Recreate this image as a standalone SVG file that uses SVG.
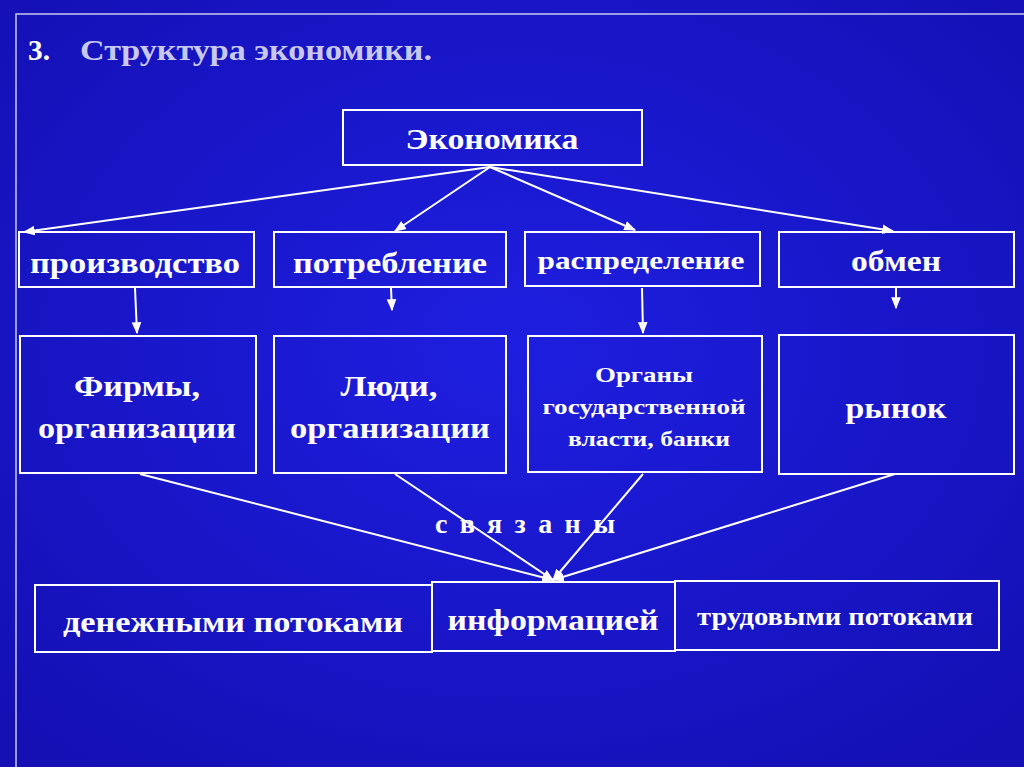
<svg xmlns="http://www.w3.org/2000/svg" width="1024" height="767" viewBox="0 0 1024 767">
<defs>
<radialGradient id="bg" cx="50%" cy="45%" r="70%"><stop offset="0" stop-color="#1e1ee0"/><stop offset="1" stop-color="#1410b4"/></radialGradient>
<marker id="ah" viewBox="0 0 10 10" refX="9" refY="5" markerWidth="6" markerHeight="6" orient="auto"><path d="M0,1 L10,5 L0,9 z" fill="#fff"/></marker>
</defs>
<style>
.b{fill:none;stroke:#fff;stroke-width:2}
.t{font-family:"Liberation Serif",serif;font-weight:bold;fill:#fff;text-anchor:middle}
.c{stroke:#fff;stroke-width:2;fill:none}
</style>
<rect width="1024" height="767" fill="url(#bg)"/>
<rect x="16" y="14" width="1020" height="760" fill="none" stroke="#c8c8f0" stroke-width="1.5"/>
<text x="28" y="60" font-family="Liberation Serif,serif" font-weight="bold" font-size="30" fill="#ffffff" textLength="22" lengthAdjust="spacingAndGlyphs">3.</text>
<text x="80" y="60" font-family="Liberation Serif,serif" font-weight="bold" font-size="30" fill="#c8c8f0" textLength="352" lengthAdjust="spacingAndGlyphs">Структура экономики.</text>
<g id="connectors">
<line class="c" x1="490" y1="167" x2="24" y2="232" marker-end="url(#ah)"/>
<line class="c" x1="490" y1="167" x2="395" y2="231" marker-end="url(#ah)"/>
<line class="c" x1="490" y1="167" x2="635" y2="230" marker-end="url(#ah)"/>
<line class="c" x1="490" y1="167" x2="893" y2="231" marker-end="url(#ah)"/>
<line class="c" x1="135" y1="288" x2="137" y2="333" marker-end="url(#ah)"/>
<line class="c" x1="391" y1="288" x2="392" y2="310" marker-end="url(#ah)"/>
<line class="c" x1="642" y1="288" x2="643" y2="333" marker-end="url(#ah)"/>
<line class="c" x1="896" y1="288" x2="896" y2="308" marker-end="url(#ah)"/>
<line class="c" x1="140" y1="474" x2="553" y2="580" marker-end="url(#ah)"/>
<line class="c" x1="395" y1="474" x2="553" y2="580" marker-end="url(#ah)"/>
<line class="c" x1="643" y1="474" x2="553" y2="580" marker-end="url(#ah)"/>
<line class="c" x1="895" y1="474" x2="553" y2="580" marker-end="url(#ah)"/>
</g>
<g id="econ"><rect class="b" x="343" y="110" width="299" height="55"/><text class="t" x="492" y="149" font-size="29" textLength="173" lengthAdjust="spacingAndGlyphs">Экономика</text></g>
<g id="proizv"><rect class="b" x="19" y="232" width="235" height="55"/><text class="t" x="135" y="273" font-size="29" textLength="210" lengthAdjust="spacingAndGlyphs">производство</text></g>
<g id="potreb"><rect class="b" x="274" y="232" width="232" height="55"/><text class="t" x="390" y="273" font-size="29" textLength="194" lengthAdjust="spacingAndGlyphs">потребление</text></g>
<g id="raspr"><rect class="b" x="525" y="232" width="235" height="54"/><text class="t" x="641" y="269" font-size="26" font-weight="normal" textLength="207" lengthAdjust="spacingAndGlyphs">распределение</text></g>
<g id="obmen"><rect class="b" x="779" y="232" width="235" height="55"/><text class="t" x="896" y="271" font-size="29" textLength="90" lengthAdjust="spacingAndGlyphs">обмен</text></g>
<g id="firmy"><rect class="b" x="20" y="336" width="236" height="137"/><text class="t" x="137" y="396" font-size="29" textLength="126" lengthAdjust="spacingAndGlyphs">Фирмы,</text><text class="t" x="137" y="438" font-size="29" textLength="198" lengthAdjust="spacingAndGlyphs">организации</text></g>
<g id="ludi"><rect class="b" x="274" y="336" width="232" height="137"/><text class="t" x="389" y="396" font-size="29" textLength="97" lengthAdjust="spacingAndGlyphs">Люди,</text><text class="t" x="390" y="438" font-size="29" textLength="200" lengthAdjust="spacingAndGlyphs">организации</text></g>
<g id="organy"><rect class="b" x="528" y="336" width="234" height="136"/><text class="t" x="644" y="382" font-size="22" textLength="98" lengthAdjust="spacingAndGlyphs">Органы</text><text class="t" x="644" y="414" font-size="22" textLength="203" lengthAdjust="spacingAndGlyphs">государственной</text><text class="t" x="649" y="446" font-size="22" textLength="162" lengthAdjust="spacingAndGlyphs">власти, банки</text></g>
<g id="rynok"><rect class="b" x="779" y="335" width="235" height="139"/><text class="t" x="896" y="418" font-size="29" textLength="101" lengthAdjust="spacingAndGlyphs">рынок</text></g>
<text class="t" x="525" y="533" font-size="28" textLength="180" lengthAdjust="spacing">связаны</text>
<g id="den"><rect class="b" x="35" y="585" width="397" height="67"/><text class="t" x="233" y="632" font-size="29" textLength="340" lengthAdjust="spacingAndGlyphs">денежными потоками</text></g>
<g id="info"><rect class="b" x="432" y="582" width="243" height="69"/><text class="t" x="553" y="630" font-size="29" textLength="211" lengthAdjust="spacingAndGlyphs">информацией</text></g>
<g id="trud"><rect class="b" x="675" y="581" width="324" height="69"/><text class="t" x="835" y="625" font-size="25" font-weight="normal" textLength="276" lengthAdjust="spacingAndGlyphs">трудовыми потоками</text></g>
</svg>
